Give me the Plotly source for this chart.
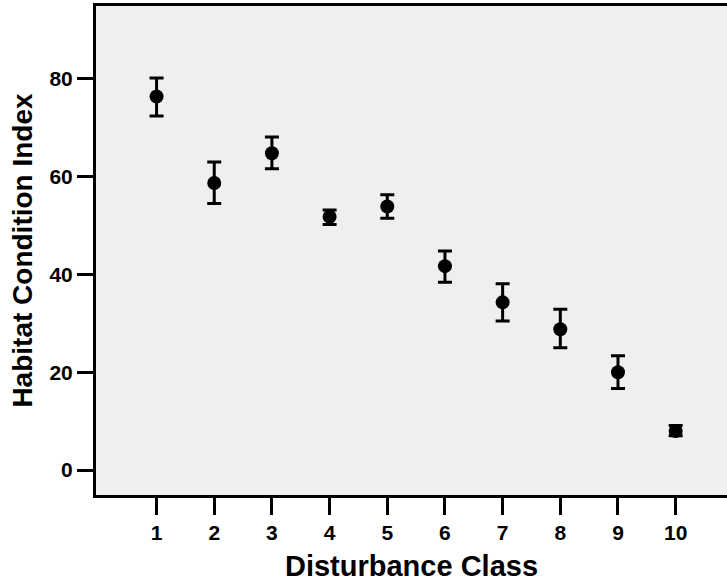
import plotly.graph_objects as go

disturbance_class = [1, 2, 3, 4, 5, 6, 7, 8, 9, 10]
hci_mean = [76.4, 58.7, 64.8, 51.8, 53.9, 41.7, 34.3, 28.8, 20.0, 8.0]
hci_upper = [80.2, 63.0, 68.1, 53.2, 56.3, 44.8, 38.1, 32.9, 23.4, 9.1]
hci_lower = [72.4, 54.5, 61.6, 50.2, 51.5, 38.4, 30.5, 25.0, 16.7, 7.0]

err_plus = [u - m for u, m in zip(hci_upper, hci_mean)]
err_minus = [m - l for m, l in zip(hci_mean, hci_lower)]

FONT = "Liberation Sans, Arial, sans-serif"

fig = go.Figure(
    go.Scatter(
        x=disturbance_class,
        y=hci_mean,
        mode="markers",
        marker=dict(size=14, color="black", symbol="circle"),
        error_y=dict(type="data", symmetric=False, array=err_plus,
                     arrayminus=err_minus, color="black", thickness=3, width=7),
        showlegend=False,
    )
)

fig.update_layout(
    width=727, height=582,
    margin=dict(l=96, r=0, t=6, b=87),
    paper_bgcolor="white",
    plot_bgcolor="#efefef",
    font=dict(family=FONT, color="black"),
)

fig.update_xaxes(
    range=[-0.05, 10.89],
    tickmode="array", tickvals=disturbance_class,
    ticktext=[str(c) for c in disturbance_class],
    ticks="outside", ticklen=17, tickwidth=3, tickcolor="black",
    tickfont=dict(family=FONT, size=21, color="black", weight="bold"),
    showline=True, linewidth=3, linecolor="black", mirror=True,
    showgrid=False, zeroline=False,
    title=dict(text="<b>Disturbance Class</b>", font=dict(family=FONT, size=29), standoff=13),
)

fig.update_yaxes(
    range=[-5.1, 94.9],
    tickvals=[0, 20, 40, 60, 80],
    ticks="outside", ticklen=16, tickwidth=3, tickcolor="black",
    tickfont=dict(family=FONT, size=21, color="black", weight="bold"),
    showline=True, linewidth=3, linecolor="black",
    showgrid=False, zeroline=False,
    title=dict(text="<b>Habitat Condition Index</b>", font=dict(family=FONT, size=28), standoff=9),
)

fig.write_html("out.html")
